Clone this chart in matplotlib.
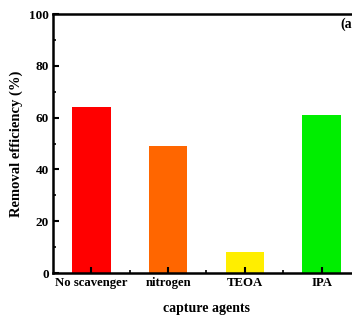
import matplotlib
matplotlib.use("Agg")
import matplotlib.pyplot as plt
from matplotlib.ticker import MultipleLocator, FixedLocator

# data
agents = ["No scavenger", "nitrogen", "TEOA", "IPA"]
removal = [64, 49, 8, 61]
bar_colors = ["#FF0000", "#FF6600", "#FFEE00", "#00EE00"]

plt.rcParams["font.family"] = ["Liberation Serif", "DejaVu Serif"]
plt.rcParams["font.weight"] = "bold"

fig = plt.figure(figsize=(3.52, 3.17), dpi=100)
ax = fig.add_axes([0.1506, 0.1388, 0.872, 0.817])

pos = list(range(1, len(agents) + 1))
ax.bar(pos, removal, width=0.5, color=bar_colors)

ax.set_xlim(0.5, 4.5)
ax.set_ylim(0, 100)
ax.set_xticks(pos)
ax.set_xticklabels(agents, fontsize=9.2, fontweight="bold")
ax.xaxis.set_minor_locator(FixedLocator([1.5, 2.5, 3.5]))
ax.yaxis.set_major_locator(MultipleLocator(20))
ax.yaxis.set_minor_locator(MultipleLocator(10))
for lab in ax.get_yticklabels():
    lab.set_fontsize(9.5)
    lab.set_fontweight("bold")

ax.tick_params(which="major", direction="in", length=4, width=1.5, pad=3)
ax.tick_params(which="minor", direction="in", length=2, width=1.2)
ax.tick_params(top=False, right=False)
for s in ax.spines.values():
    s.set_linewidth(1.8)

ax.set_xlabel("capture agents", fontsize=10, fontweight="bold", labelpad=9)
ax.set_ylabel("Removal efficiency (%)", fontsize=10.5, fontweight="bold", labelpad=4)
ax.text(0.935, 0.945, "(a)", transform=ax.transAxes, fontsize=10, fontweight="bold")

fig.savefig("out.png", dpi=100)
